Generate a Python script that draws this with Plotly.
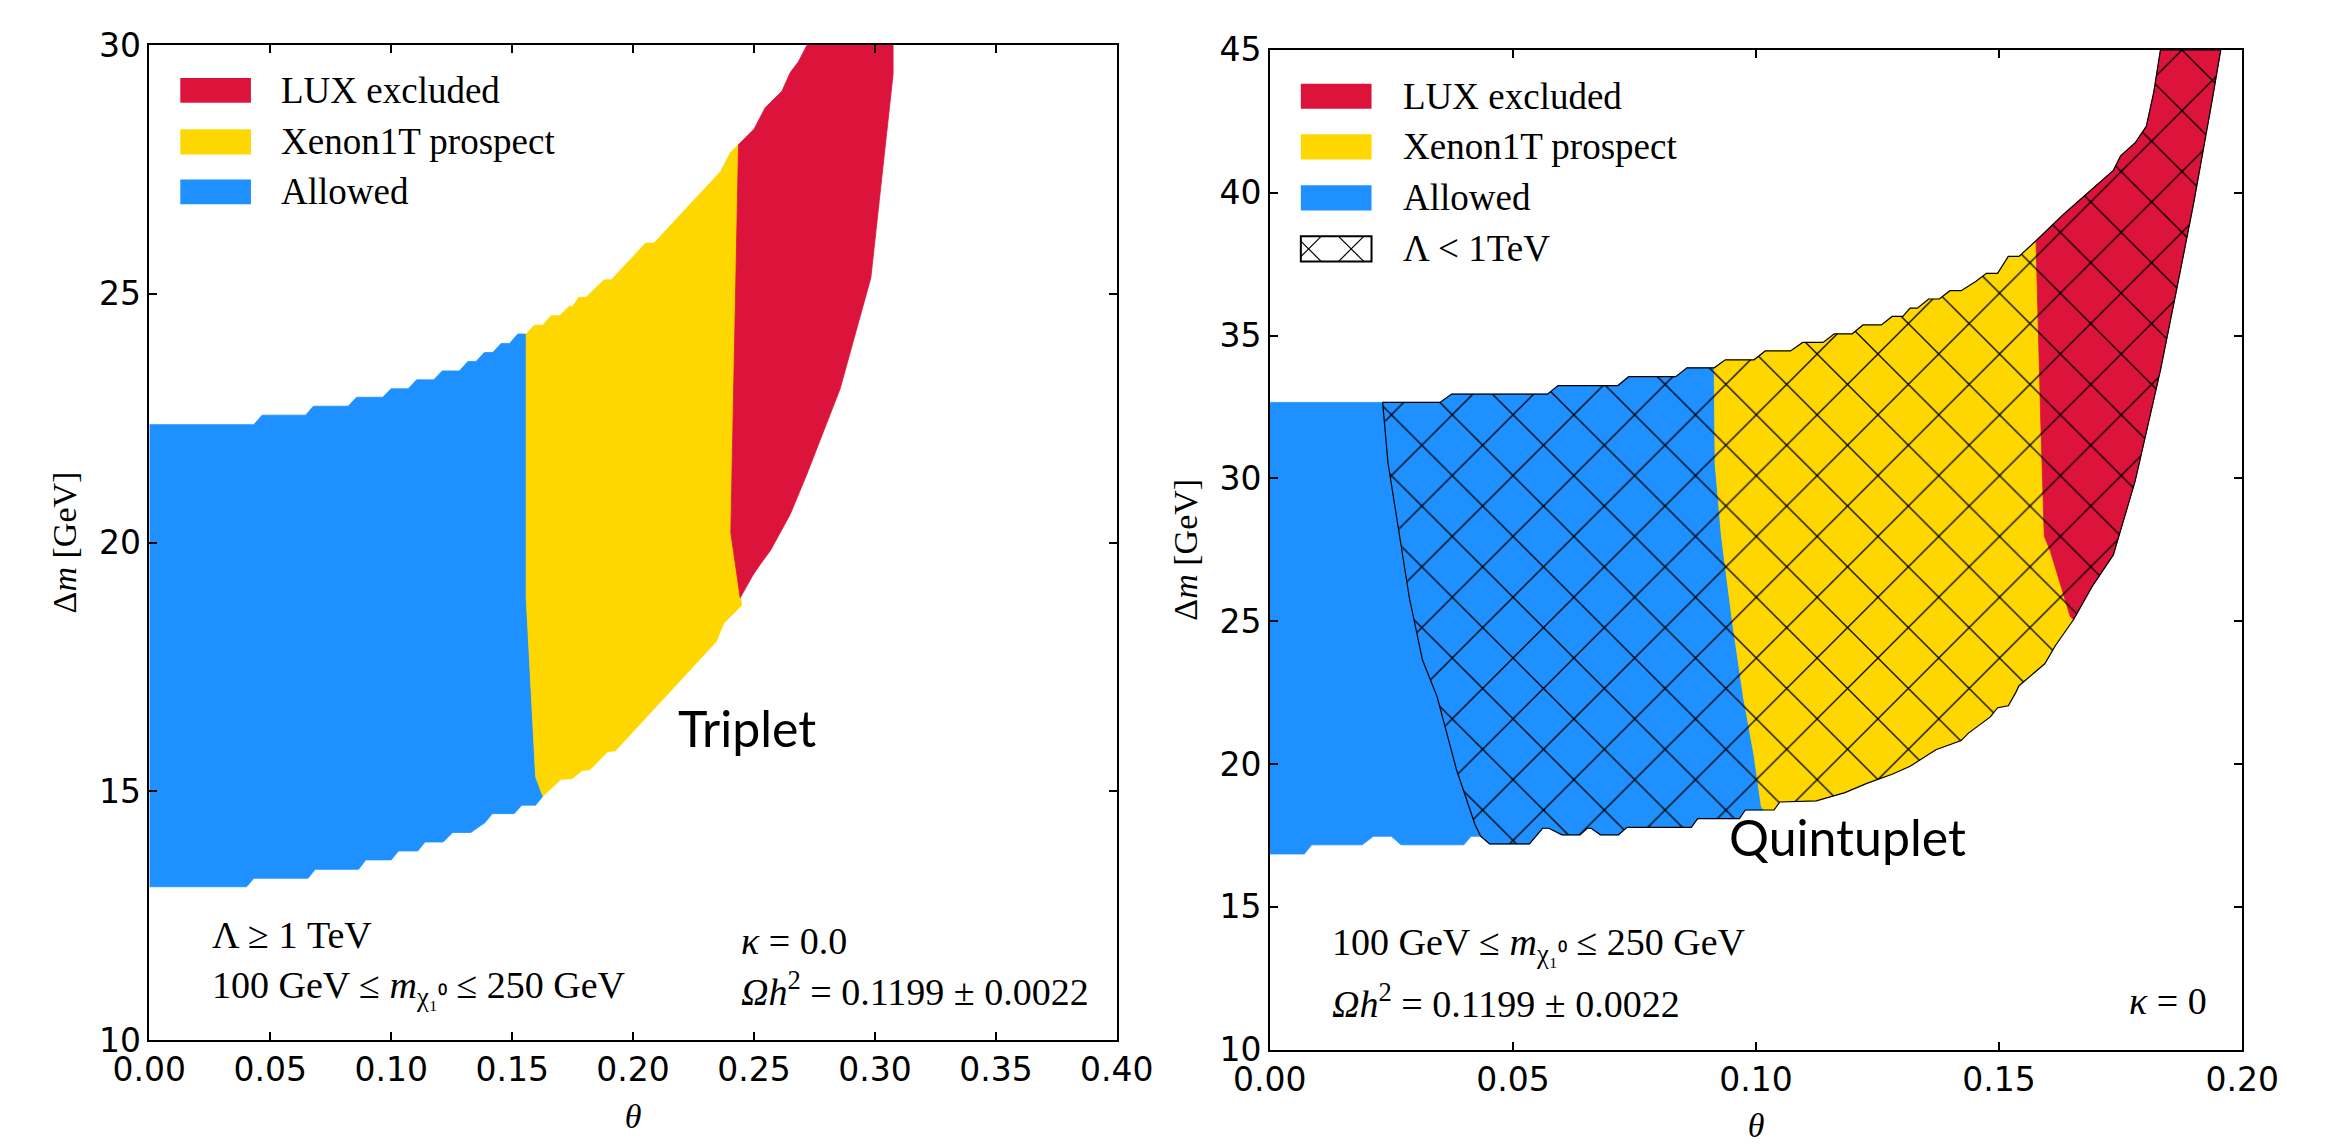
import plotly.graph_objects as go

# ---------------- Left panel (Triplet) boundaries: theta, delta m ----------------
L_blue_top_theta = [0.0, 0.0432, 0.0466, 0.0646, 0.0678, 0.0822, 0.0857, 0.0965, 0.0999, 0.1070, 0.1105,
                    0.1176, 0.1211, 0.1282, 0.1317, 0.1351, 0.1385, 0.1420, 0.1454, 0.1489, 0.1523, 0.1558]
L_blue_top_dm = [22.37, 22.37, 22.56, 22.56, 22.74, 22.74, 22.92, 22.92, 23.09, 23.09, 23.27,
                 23.27, 23.45, 23.45, 23.64, 23.64, 23.82, 23.82, 24.00, 24.00, 24.19, 24.19]
L_blue_yellow_theta = [0.1558, 0.1558, 0.1597, 0.1627]
L_blue_yellow_dm = [24.19, 18.90, 15.29, 14.90]
L_blue_bot_theta = [0.1627, 0.1597, 0.1540, 0.1508, 0.1418, 0.1388, 0.1329, 0.1254, 0.1215, 0.1140,
                    0.1110, 0.1030, 0.1000, 0.0895, 0.0865, 0.0686, 0.0656, 0.0432, 0.0402, 0.0]
L_blue_bot_dm = [14.90, 14.72, 14.72, 14.55, 14.55, 14.37, 14.17, 14.17, 13.98, 13.98,
                 13.80, 13.80, 13.62, 13.62, 13.43, 13.43, 13.25, 13.25, 13.08, 13.08]
L_yellow_top_theta = [0.1558, 0.1592, 0.1627, 0.1661, 0.1696, 0.1736, 0.1751, 0.1776, 0.1806, 0.1880,
                      0.1910, 0.2052, 0.2087, 0.2362, 0.2404, 0.2436]
L_yellow_top_dm = [24.19, 24.37, 24.37, 24.56, 24.56, 24.75, 24.75, 24.93, 24.93, 25.28,
                   25.28, 26.02, 26.02, 27.46, 27.85, 28.00]
L_yellow_red_theta = [0.2436, 0.2404, 0.2443]
L_yellow_red_dm = [28.00, 20.20, 18.89]
L_yellow_bot_theta = [0.2443, 0.2449, 0.2374, 0.2344, 0.1926, 0.1896, 0.1821, 0.1791, 0.1747, 0.1702, 0.1627]
L_yellow_bot_dm = [18.89, 18.74, 18.37, 18.01, 15.81, 15.80, 15.43, 15.42, 15.25, 15.24, 14.90]
L_red_upper_theta = [0.2436, 0.2500, 0.2546, 0.2615, 0.2650, 0.2684, 0.2719]
L_red_upper_dm = [28.00, 28.31, 28.74, 29.07, 29.45, 29.67, 30.00]
L_red_right_theta = [0.3075, 0.3075, 0.2983, 0.2856, 0.2719, 0.2650, 0.2568, 0.2524, 0.2494, 0.2443]
L_red_right_dm = [30.00, 29.41, 25.32, 23.09, 21.38, 20.57, 19.84, 19.55, 19.33, 18.89]

# ---------------- Right panel (Quintuplet) boundaries ----------------
R_blue_top_theta = [0.0, 0.0350, 0.0374, 0.0571, 0.0593, 0.0716, 0.0738, 0.0835, 0.0858, 0.0914]
R_blue_top_dm = [32.66, 32.66, 32.95, 32.95, 33.25, 33.25, 33.56, 33.56, 33.87, 33.87]
R_blue_yellow_theta = [0.0914, 0.0916, 0.0929, 0.0952, 0.0974, 0.0996, 0.1011, 0.1016]
R_blue_yellow_dm = [33.87, 30.50, 27.97, 24.92, 22.36, 20.31, 18.51, 18.39]
R_blue_bot_theta = [0.1016, 0.0978, 0.0966, 0.0880, 0.0867, 0.0735, 0.0717, 0.0680, 0.0661, 0.0653, 0.0638,
                    0.0601, 0.0574, 0.0561, 0.0534, 0.0452, 0.0434, 0.0414, 0.0399, 0.0270, 0.0250,
                    0.0213, 0.0190, 0.0086, 0.0071, 0.0]
R_blue_bot_dm = [18.39, 18.39, 18.09, 18.09, 17.78, 17.78, 17.52, 17.52, 17.75, 17.75, 17.52,
                 17.52, 17.75, 17.75, 17.20, 17.20, 17.47, 17.47, 17.17, 17.17, 17.47,
                 17.47, 17.17, 17.17, 16.85, 16.85]
R_yellow_top_theta = [0.0914, 0.0937, 0.0996, 0.1019, 0.1071, 0.1096, 0.1138, 0.1161, 0.1198, 0.1220, 0.1258,
                      0.1280, 0.1302, 0.1317, 0.1332, 0.1355, 0.1377, 0.1399, 0.1422, 0.1452, 0.1474,
                      0.1497, 0.1519, 0.1541, 0.1576]
R_yellow_top_dm = [33.87, 34.15, 34.15, 34.46, 34.46, 34.76, 34.76, 35.06, 35.06, 35.37, 35.37,
                   35.67, 35.67, 35.96, 35.96, 36.28, 36.28, 36.57, 36.57, 36.89, 37.18,
                   37.18, 37.77, 37.77, 38.32]
R_yellow_red_theta = [0.1576, 0.1586, 0.1593, 0.1605, 0.1623, 0.1646, 0.1653]
R_yellow_red_dm = [38.32, 31.85, 27.97, 27.48, 26.46, 25.18, 25.05]
R_yellow_bot_theta = [0.1653, 0.1616, 0.1594, 0.1541, 0.1534, 0.1519, 0.1497, 0.1482, 0.1437, 0.1422, 0.1370,
                      0.1317, 0.1280, 0.1228, 0.1183, 0.1124, 0.1049, 0.1037, 0.1016]
R_yellow_bot_dm = [25.05, 24.15, 23.51, 22.74, 22.49, 22.04, 21.97, 21.65, 21.08, 20.82, 20.50,
                   19.92, 19.64, 19.32, 19.00, 18.71, 18.67, 18.39, 18.39]
R_red_upper_theta = [0.1576, 0.1631, 0.1691, 0.1735, 0.1750, 0.1780, 0.1803, 0.1818, 0.1832]
R_red_upper_dm = [38.32, 39.22, 40.13, 40.78, 41.29, 41.75, 42.33, 43.50, 45.00]
R_red_right_theta = [0.1956, 0.1937, 0.1900, 0.1870, 0.1832, 0.1780, 0.1735, 0.1691, 0.1653]
R_red_right_dm = [45.00, 43.11, 39.61, 37.02, 33.79, 29.91, 27.32, 26.20, 25.05]
R_hatch_left_theta = [0.0232, 0.0243, 0.0287, 0.0314, 0.0344, 0.0384, 0.0422, 0.0434, 0.0452]
R_hatch_left_dm = [32.66, 30.55, 25.82, 23.64, 22.36, 19.80, 17.88, 17.47, 17.20]

RED = "#DC143C"
GOLD = "#FFD700"
BLUE = "#1E90FF"

legend_labels = ["LUX excluded", "Xenon1T prospect", "Allowed", "Λ < 1TeV"]


def chain(*segs):
    xs, ys = [], []
    for tx, ty in segs:
        for a, b in zip(tx, ty):
            if xs and abs(xs[-1] - a) < 1e-12 and abs(ys[-1] - b) < 1e-12:
                continue
            xs.append(a)
            ys.append(b)
    return xs, ys


def rev(tx, ty):
    return list(reversed(tx)), list(reversed(ty))


fig = go.Figure()


def add_region(xs, ys, color, xa, ya):
    fig.add_trace(go.Scatter(x=xs, y=ys, mode="lines", fill="toself", fillcolor=color,
                             line=dict(color=color, width=0.8), hoverinfo="skip",
                             xaxis=xa, yaxis=ya, showlegend=False))


# Left panel regions
bx, by = chain((L_blue_top_theta, L_blue_top_dm), (L_blue_yellow_theta, L_blue_yellow_dm),
               (L_blue_bot_theta, L_blue_bot_dm))
add_region(bx, by, BLUE, "x", "y")
yx, yy = chain((L_yellow_top_theta, L_yellow_top_dm), (L_yellow_red_theta, L_yellow_red_dm),
               (L_yellow_bot_theta, L_yellow_bot_dm), rev(L_blue_yellow_theta, L_blue_yellow_dm))
add_region(yx, yy, GOLD, "x", "y")
rx, ry = chain((L_red_upper_theta, L_red_upper_dm), (L_red_right_theta, L_red_right_dm),
               rev(L_yellow_red_theta, L_yellow_red_dm))
add_region(rx, ry, RED, "x", "y")

# Right panel regions
bx, by = chain((R_blue_top_theta, R_blue_top_dm), (R_blue_yellow_theta, R_blue_yellow_dm),
               (R_blue_bot_theta, R_blue_bot_dm))
add_region(bx, by, BLUE, "x2", "y2")
yx, yy = chain((R_yellow_top_theta, R_yellow_top_dm), (R_yellow_red_theta, R_yellow_red_dm),
               (R_yellow_bot_theta, R_yellow_bot_dm), rev(R_blue_yellow_theta, R_blue_yellow_dm))
add_region(yx, yy, GOLD, "x2", "y2")
rx, ry = chain((R_red_upper_theta, R_red_upper_dm), (R_red_right_theta, R_red_right_dm),
               rev(R_yellow_red_theta, R_yellow_red_dm))
add_region(rx, ry, RED, "x2", "y2")

# Hatched region (Lambda < 1 TeV)
t0 = R_hatch_left_theta[0]
t1 = R_hatch_left_theta[-1]
bt = [(a, b) for a, b in zip(R_blue_top_theta, R_blue_top_dm) if a >= t0]
bb = [(a, b) for a, b in zip(R_blue_bot_theta, R_blue_bot_dm) if a >= t1]
hx, hy = chain(([t0] + [p[0] for p in bt], [R_hatch_left_dm[0]] + [p[1] for p in bt]),
               (R_yellow_top_theta, R_yellow_top_dm),
               (R_red_upper_theta, R_red_upper_dm),
               (R_red_right_theta, R_red_right_dm),
               (R_yellow_bot_theta, R_yellow_bot_dm),
               ([p[0] for p in bb], [p[1] for p in bb]),
               rev(R_hatch_left_theta, R_hatch_left_dm))
fig.add_trace(go.Scatter(x=hx, y=hy, mode="lines", fill="toself", fillcolor="rgba(0,0,0,0)",
                         fillpattern=dict(shape="x", size=43, solidity=0.06, fgcolor="black",
                                          bgcolor="rgba(0,0,0,0)", fillmode="replace"),
                         line=dict(color="black", width=1.2), hoverinfo="skip",
                         xaxis="x2", yaxis="y2", showlegend=False))

W, H = 2345, 1144
axis_style = dict(showline=True, linecolor="black", linewidth=1.5, mirror="ticks", ticks="inside",
                  ticklen=8, tickwidth=1.5, tickcolor="black", showgrid=False, zeroline=False,
                  tickfont=dict(family="DejaVu Sans", size=33, color="black"))
title_font = dict(family="Liberation Serif", size=34, color="black")

fig.update_layout(
    width=W, height=H, autosize=False, margin=dict(l=0, r=0, t=0, b=0),
    paper_bgcolor="white", plot_bgcolor="white", showlegend=False,
    xaxis=dict(domain=[116 / W, 1115 / W], range=[0, 0.4], dtick=0.05, tick0=0, tickformat=".2f",
               anchor="y", title=dict(text="<i>θ</i>", font=title_font, standoff=16), **axis_style),
    yaxis=dict(domain=[1 - 1057 / H, 1 - 27 / H], range=[10, 30], dtick=5, tick0=0, anchor="x",
               title=dict(text="Δ<i>m</i> [GeV]", font=title_font, standoff=12), **axis_style),
    xaxis2=dict(domain=[1273 / W, 2277 / W], range=[0, 0.2], dtick=0.05, tick0=0, tickformat=".2f",
                anchor="y2", title=dict(text="<i>θ</i>", font=title_font, standoff=16), **axis_style),
    yaxis2=dict(domain=[1 - 1067 / H, 1 - 32 / H], range=[10, 45], dtick=5, tick0=0, anchor="x2",
                title=dict(text="Δ<i>m</i> [GeV]", font=title_font, standoff=12), **axis_style),
)

serif_leg = dict(family="Liberation Serif", size=37, color="black")
serif = dict(family="Liberation Serif", size=38, color="black")
sans = dict(family="Lato", size=50, color="black")

# Legends (drawn in axis-domain coordinates)
shapes = []
annotations = []
leg_left = dict(x0=0.032, x1=0.105, tx=0.134, rows=[(0.942, 0.967), (0.890, 0.9155), (0.840, 0.865)])
leg_right = dict(x0=0.0319, x1=0.1046, tx=0.1345,
                 rows=[(0.9411, 0.9662), (0.8904, 0.9156), (0.8394, 0.8645), (0.7884, 0.8135)])
colors = [RED, GOLD, BLUE]
for (leg, xr, yr, n) in [(leg_left, "x domain", "y domain", 3), (leg_right, "x2 domain", "y2 domain", 4)]:
    for i in range(n):
        y0, y1 = leg["rows"][i]
        if i < 3:
            shapes.append(dict(type="rect", xref=xr, yref=yr, x0=leg["x0"], x1=leg["x1"], y0=y0, y1=y1,
                               fillcolor=colors[i], line=dict(width=0)))
        else:
            shapes.append(dict(type="rect", xref=xr, yref=yr, x0=leg["x0"], x1=leg["x1"], y0=y0, y1=y1,
                               fillcolor="white", line=dict(color="black", width=2)))
            for (a, b, c, d) in [(0.0319, 0.8087, 0.0528, 0.7884), (0.0319, 0.7932, 0.0528, 0.8135),
                                 (0.0707, 0.8135, 0.0966, 0.7884), (0.0707, 0.7884, 0.0966, 0.8135)]:
                shapes.append(dict(type="line", xref=xr, yref=yr, x0=a, y0=b, x1=c, y1=d,
                                   line=dict(color="black", width=1.2)))
        annotations.append(dict(xref=xr, yref=yr, x=leg["tx"], y=(y0 + y1) / 2, text=legend_labels[i],
                                showarrow=False, xanchor="left", yanchor="middle", font=serif_leg))

# Panel labels
annotations += [
    dict(xref="x", yref="y", x=0.247, y=16.28, text="Triplet", showarrow=False,
         xanchor="center", yanchor="middle", font=sans),
    dict(xref="x", yref="y", x=0.025, y=12.12, text="Λ ≥ 1 TeV", showarrow=False,
         xanchor="left", yanchor="middle", font=serif),
    dict(xref="x", yref="y", x=0.025, y=11.05, text="100 GeV ≤ <i>m</i><sub>χ₁⁰</sub> ≤ 250 GeV",
         showarrow=False, xanchor="left", yanchor="middle", font=serif),
    dict(xref="x", yref="y", x=0.244, y=11.99, text="<i>κ</i> = 0.0", showarrow=False,
         xanchor="left", yanchor="middle", font=serif),
    dict(xref="x", yref="y", x=0.244, y=11.02, text="<i>Ωh</i><sup>2</sup> = 0.1199 ± 0.0022",
         showarrow=False, xanchor="left", yanchor="middle", font=serif),
    dict(xref="x2", yref="y2", x=0.1189, y=17.44, text="Quintuplet", showarrow=False,
         xanchor="center", yanchor="middle", font=sans),
    dict(xref="x2", yref="y2", x=0.0124, y=13.65, text="100 GeV ≤ <i>m</i><sub>χ₁⁰</sub> ≤ 250 GeV",
         showarrow=False, xanchor="left", yanchor="middle", font=serif),
    dict(xref="x2", yref="y2", x=0.0124, y=11.69, text="<i>Ωh</i><sup>2</sup> = 0.1199 ± 0.0022",
         showarrow=False, xanchor="left", yanchor="middle", font=serif),
    dict(xref="x2", yref="y2", x=0.1932, y=11.69, text="<i>κ</i> = 0", showarrow=False,
         xanchor="right", yanchor="middle", font=serif),
]

fig.update_layout(shapes=shapes, annotations=annotations)
fig.write_html("out.html")
